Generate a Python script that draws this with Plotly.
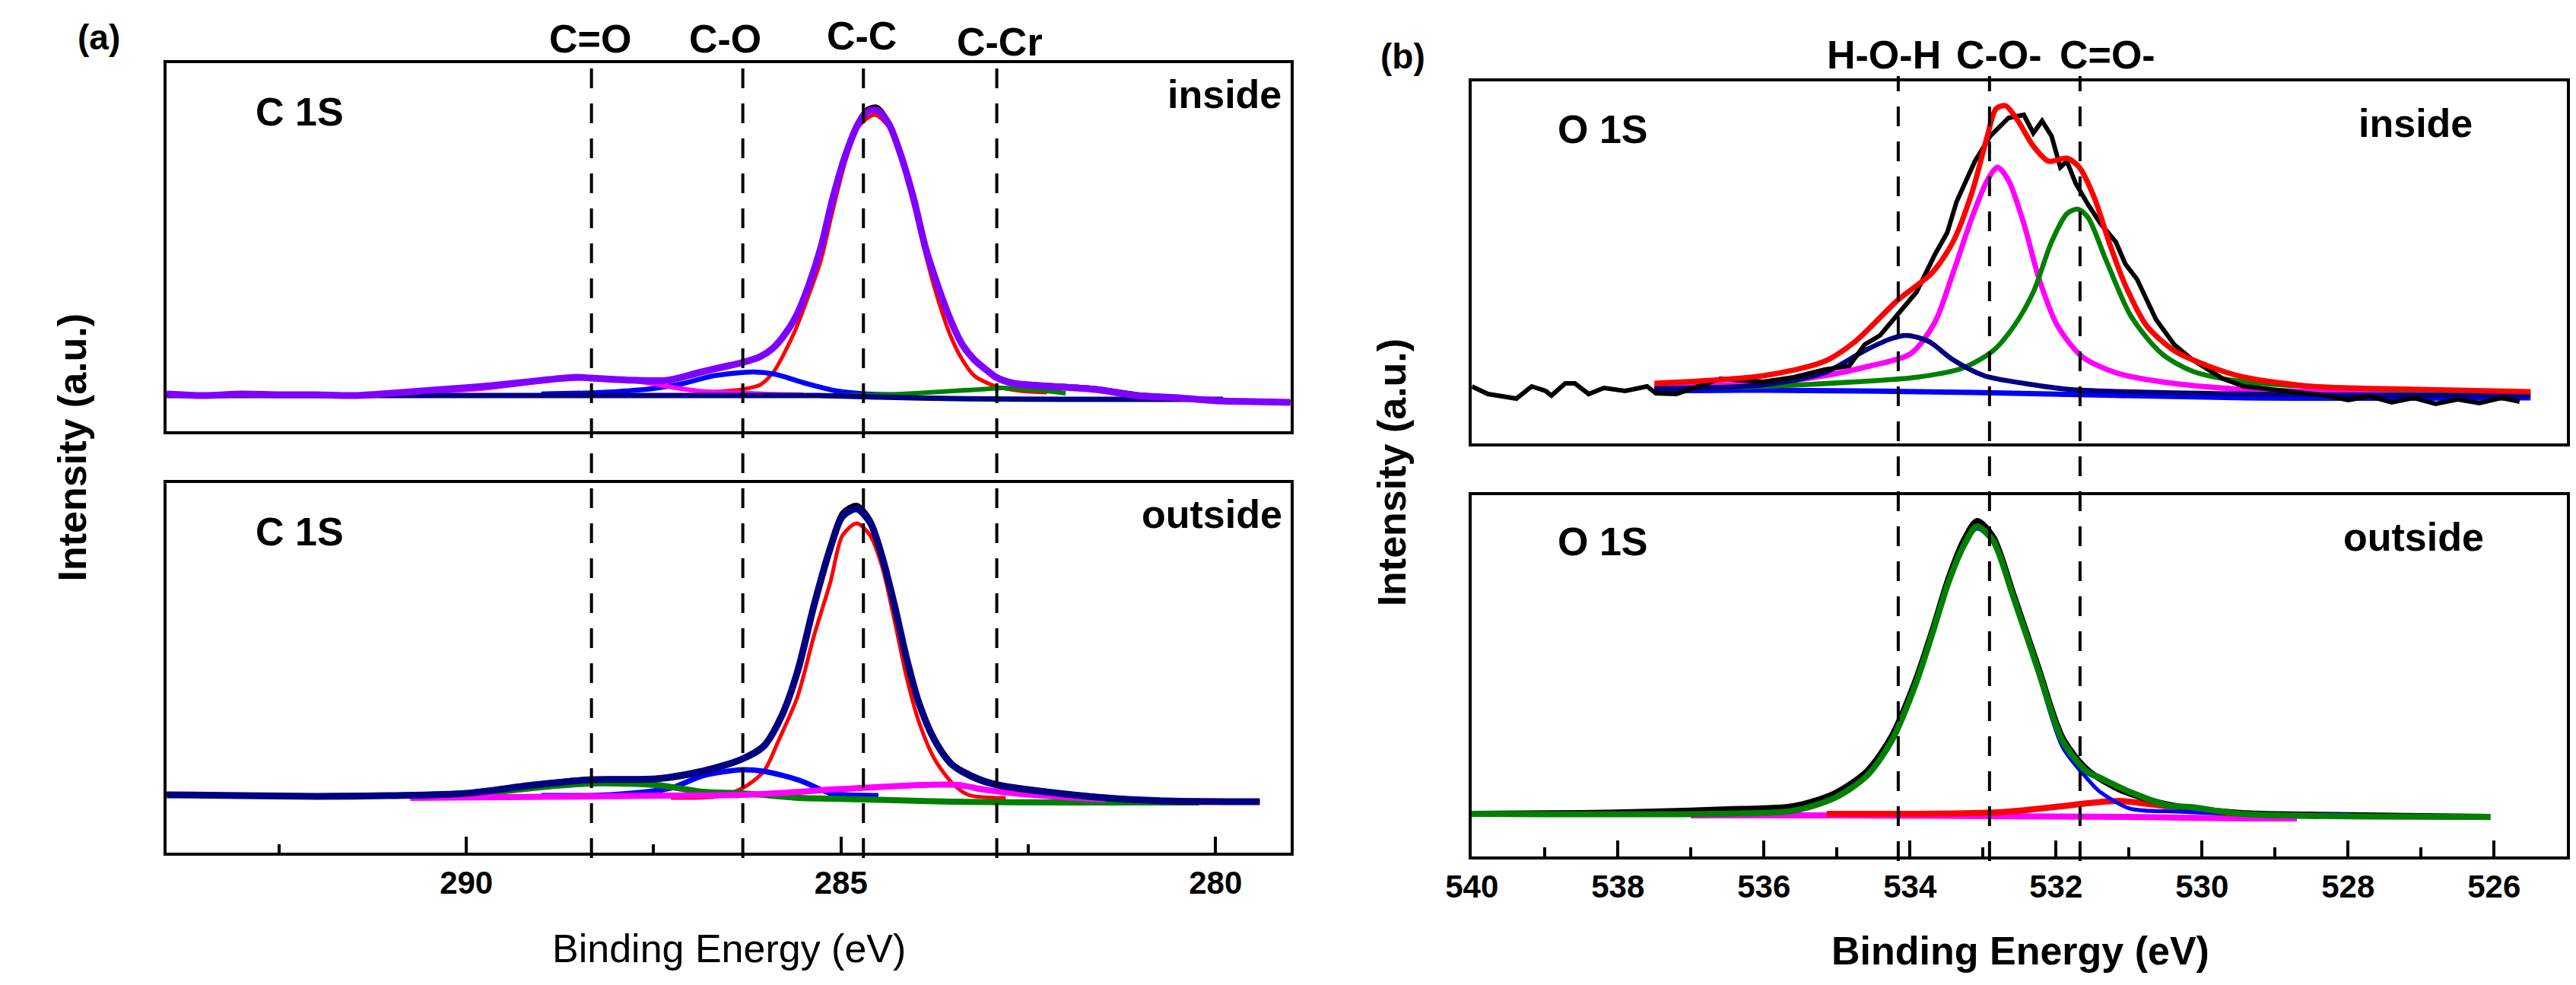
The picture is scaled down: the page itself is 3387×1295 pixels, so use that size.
"""XPS C 1s / O 1s peak fits, inside vs outside, redrawn with Plotly."""
import plotly.graph_objects as go

W, H = 3387, 1295
FONT = "Liberation Sans"

# ---------------- (a) C 1s, inside ----------------
c_in_env_e = [294.0, 293.5, 293.0, 292.5, 292.0, 291.5, 291.0, 290.46, 289.9, 289.37, 288.9,
              288.54, 288.34, 288.0, 287.73, 287.32, 286.90, 286.60, 286.33, 286.08, 285.90,
              285.76, 285.60, 285.43, 285.27, 285.11, 284.94, 284.77, 284.65, 284.52, 284.36,
              284.20, 284.03, 283.87, 283.71, 283.54, 283.38, 283.22, 283.05, 282.93, 282.70,
              282.2, 281.6, 281.05, 280.5, 279.96, 279.5, 279.0]
c_in_env = [49, 47, 49, 48, 48, 47, 50, 54, 58, 63, 68, 71, 70, 68, 67, 67, 77, 84, 90, 98, 110,
            126, 151, 192, 241, 306, 363, 404, 420, 422, 404, 363, 306, 241, 192, 147, 114, 94,
            80, 71, 63, 59, 55, 47, 44, 40, 39, 38]
c_in_raw = [50, 48, 50, 47, 49, 48, 50, 55, 57, 64, 69, 72, 70, 69, 66, 68, 78, 85, 91, 99, 111,
            128, 153, 194, 244, 309, 367, 408, 424, 427, 407, 365, 308, 243, 194, 149, 116, 96,
            82, 73, 65, 61, 57, 49, 45, 41, 40, 38]

c_in_cc_e = [286.8, 286.33, 286.08, 285.90, 285.76, 285.60, 285.43, 285.27, 285.11, 284.94,
             284.77, 284.55, 284.36, 284.20, 284.03, 283.87, 283.71, 283.54, 283.38, 283.22,
             282.93, 282.6, 282.25]
c_in_cc = [51, 55, 61, 78, 102, 135, 179, 224, 290, 355, 400, 416, 400, 359, 298, 232, 175, 126,
           94, 73, 59, 53, 51]

c_in_co_e = [289.0, 288.22, 287.52, 287.10, 286.70, 286.17, 285.88, 285.47, 285.06, 284.65, 284.3]
c_in_co = [49, 51, 56, 63, 73, 78, 75, 63, 53, 49, 48]

c_in_cdo_e = [291.0, 290.5, 289.8, 289.3, 288.8, 288.4, 288.0, 287.6, 287.32, 286.90, 286.5,
              286.0, 285.5]
c_in_cdo = [50, 52, 56, 62, 68, 70, 69, 64, 59, 53, 51, 49, 48]

c_in_ccr_e = [285.2, 284.5, 284.0, 283.5, 283.0, 282.85, 282.5, 282.25, 282.0]
c_in_ccr = [47, 48, 50, 53, 56, 57, 55, 53, 50]

c_in_bg_e = [294.0, 286.0, 285.3, 284.5, 283.5, 282.0, 279.9]
c_in_bg = [47, 47, 47, 45, 43, 42, 42]

# ---------------- (a) C 1s, outside ----------------
c_out_env_e = [294.0, 293.0, 292.0, 291.0, 290.0, 289.1, 288.33, 287.47, 286.85, 286.32, 286.03,
               285.79, 285.58, 285.36, 285.14, 284.98, 284.79, 284.61, 284.45, 284.28, 284.12,
               283.96, 283.75, 283.51, 283.18, 282.91, 282.27, 281.46, 280.64, 279.41]
c_out_env = [76, 75, 74, 75, 78, 89, 96, 97, 107, 123, 140, 180, 238, 325, 401, 442, 452, 434,
             389, 323, 254, 197, 148, 115, 97, 89, 80, 72, 68, 67]
c_out_raw = [77, 75, 75, 76, 78, 90, 97, 98, 108, 124, 142, 182, 241, 329, 405, 447, 457, 438,
             392, 325, 256, 199, 150, 117, 99, 90, 81, 73, 68, 67]

c_out_cc_e = [287.27, 286.64, 286.31, 286.03, 285.83, 285.58, 285.36, 285.14, 284.98, 284.79,
              284.61, 284.45, 284.28, 284.12, 283.96, 283.75, 283.51, 283.30, 282.93, 282.8]
c_out_cc = [72, 74, 85, 107, 148, 205, 285, 356, 417, 433, 417, 376, 303, 229, 172, 123, 91, 76,
            72, 72]

c_out_co_e = [289.0, 288.08, 287.27, 286.85, 286.32, 286.03, 285.55, 285.14, 284.93, 284.5]
c_out_co = [75, 76, 85, 101, 109, 107, 95, 78, 76, 75]

c_out_m_e = [290.75, 289.5, 288.29, 287.3, 286.32, 285.55, 285.14, 284.73, 283.92, 283.43,
             283.10, 282.68, 282.0, 281.46]
c_out_m = [72, 73, 74, 75, 76, 80, 83, 85, 89, 89, 83, 78, 73, 70]

c_out_g_e = [289.93, 289.4, 288.90, 288.29, 287.47, 286.85, 286.31, 285.55, 285.14, 284.3,
             283.51, 282.0, 280.22]
c_out_g = [76, 82, 87, 91, 89, 80, 78, 72, 71, 69, 67, 66, 66]

# ---------------- (b) O 1s, inside ----------------
o_in_raw_e = [540.0, 539.78, 539.39, 539.18, 538.99, 538.91, 538.72, 538.59, 538.40, 538.19,
              537.90, 537.60, 537.48, 537.20, 536.60, 536.01, 535.59, 535.17, 534.83, 534.62,
              534.41, 534.16, 533.91, 533.66, 533.49, 533.36, 533.11, 532.90, 532.65, 532.44,
              532.31, 532.19, 532.06, 531.94, 531.85, 531.73, 531.56, 531.39, 531.18, 531.05,
              530.89, 530.63, 530.38, 530.13, 529.71, 529.42, 529.0, 528.6, 528.3, 528.0,
              527.7, 527.4, 527.1, 526.8, 526.5, 526.2, 525.9, 525.65]
o_in_raw = [75, 65, 59, 75, 69, 63, 79, 79, 65, 73, 69, 75, 66, 65, 85, 81, 87, 97, 102, 130,
            142, 171, 199, 248, 277, 318, 371, 404, 428, 432, 408, 424, 404, 363, 371, 342, 314,
            289, 265, 236, 216, 163, 130, 110, 85, 75, 70, 66, 63, 57, 62, 54, 60, 52, 58, 53,
            60, 55]

o_in_env_e = [537.5, 536.01, 535.17, 534.75, 534.16, 533.70, 533.41, 533.15, 532.94, 532.82,
              532.69, 532.52, 532.31, 532.10, 531.85, 531.68, 531.47, 531.26, 531.05, 530.76,
              530.38, 529.92, 529.42, 528.5, 527.0, 525.5]
o_in_env = [79, 89, 108, 134, 189, 224, 265, 330, 404, 440, 444, 424, 391, 371, 375, 363, 322,
            261, 208, 155, 122, 102, 87, 75, 71, 68]

o_in_co_e = [537.5, 536.01, 535.17, 534.54, 533.99, 533.66, 533.41, 533.15, 532.94, 532.80,
             532.65, 532.44, 532.23, 531.98, 531.64, 531.18, 530.55, 529.42, 527.5, 525.5]
o_in_co = [75, 79, 89, 102, 118, 159, 224, 297, 346, 363, 346, 289, 216, 155, 114, 93, 81, 71,
           67, 65]

o_in_cdo_e = [537.5, 536.01, 534.75, 533.91, 533.28, 532.86, 532.57, 532.31, 532.06, 531.85,
              531.70, 531.56, 531.31, 530.97, 530.55, 530.13, 529.42, 527.5, 525.5]
o_in_cdo = [72, 75, 81, 87, 99, 122, 155, 199, 265, 302, 308, 297, 240, 167, 118, 95, 81, 71, 67]

o_in_hoh_e = [537.5, 536.01, 535.17, 534.62, 534.25, 534.04, 533.74, 533.41, 532.98, 532.44,
              531.81, 529.42, 525.5]
o_in_hoh = [72, 77, 93, 122, 138, 142, 134, 110, 89, 79, 71, 65, 63]

o_in_bg_e = [537.5, 536.01, 533.1, 529.42, 525.5]
o_in_bg = [69, 70, 67, 60, 60]

# ---------------- (b) O 1s, outside ----------------
o_out_env_e = [540.0, 536.71, 535.60, 535.03, 534.59, 534.25, 533.92, 533.69, 533.47, 533.25,
               533.08, 532.86, 532.58, 532.24, 531.91, 531.57, 531.41, 530.99, 530.46, 530.15,
               529.45, 526.05]
o_out_env = [56, 56, 60, 77, 106, 152, 227, 294, 361, 411, 434, 415, 340, 244, 152, 111, 104,
             85, 67, 65, 56, 52]

o_out_raw_e = [540.0, 538.5, 537.5, 536.5, 535.6, 535.03, 534.59, 534.25, 533.92, 533.69, 533.47,
               533.25, 533.08, 532.86, 532.58, 532.24, 531.91, 531.57, 531.13, 530.46, 529.45,
               528.5, 527.0, 526.05]
o_out_raw = [56, 57, 59, 62, 66, 83, 112, 158, 232, 298, 366, 418, 441, 420, 344, 248, 156, 114,
             88, 68, 57, 55, 53, 52]

o_out_b_e = [537.0, 535.6, 535.03, 534.59, 534.25, 533.92, 533.69, 533.47, 533.25, 533.08,
             532.86, 532.58, 532.24, 531.91, 531.57, 531.41, 530.99, 530.36, 529.5, 528.0]
o_out_b = [56, 60, 77, 106, 152, 227, 294, 361, 411, 431, 413, 338, 240, 144, 102, 86, 63, 59,
           56, 55]

o_out_r_e = [535.14, 532.80, 532.02, 531.46, 531.13, 530.57, 530.15, 529.79, 528.90]
o_out_r = [56, 58, 65, 71, 73, 67, 63, 58, 54]

o_out_m_e = [537.0, 535.0, 533.0, 531.0, 529.4, 528.7]
o_out_m = [54, 54, 53, 52, 50, 50]

# peak markers (dashed guide lines)
c_peaks = [288.33, 286.31, 284.70, 282.92]
o_peaks = [534.16, 532.91, 531.67]

fig = go.Figure()


def add(e, v, color, width, xa, ya, smooth=True):
    fig.add_trace(go.Scatter(
        x=e, y=v, mode="lines", xaxis=xa, yaxis=ya, showlegend=False, hoverinfo="skip",
        line=dict(color=color, width=width, shape="spline" if smooth else "linear",
                  smoothing=0.8),
    ))


# (a) inside
add(c_in_env_e, c_in_raw, "black", 5, "x", "y")
add(c_in_cc_e, c_in_cc, "#FF0000", 5, "x", "y")
add(c_in_co_e, c_in_co, "#0000FF", 6.5, "x", "y")
add(c_in_cdo_e, c_in_cdo, "#FF00FF", 6, "x", "y")
add(c_in_ccr_e, c_in_ccr, "#008000", 6, "x", "y")
add(c_in_bg_e, c_in_bg, "#000080", 7, "x", "y")
add(c_in_env_e, c_in_env, "#8000FF", 9, "x", "y")

# (a) outside
add(c_out_env_e, c_out_raw, "black", 6, "x2", "y2")
add(c_out_cc_e, c_out_cc, "#FF0000", 5, "x2", "y2")
add(c_out_co_e, c_out_co, "#0000FF", 7, "x2", "y2")
add(c_out_g_e, c_out_g, "#008000", 8, "x2", "y2")
add(c_out_m_e, c_out_m, "#FF00FF", 8, "x2", "y2")
add(c_out_env_e, c_out_env, "#000080", 9, "x2", "y2")

# (b) inside
add(o_in_bg_e, o_in_bg, "#0000FF", 7, "x3", "y3")
add(o_in_co_e, o_in_co, "#FF00FF", 7, "x3", "y3")
add(o_in_cdo_e, o_in_cdo, "#008000", 6.5, "x3", "y3")
add(o_in_hoh_e, o_in_hoh, "#000080", 6.5, "x3", "y3")
add(o_in_raw_e, o_in_raw, "black", 6, "x3", "y3", smooth=False)
add(o_in_env_e, o_in_env, "#FF0000", 7, "x3", "y3")

# (b) outside
add(o_out_m_e, o_out_m, "#FF00FF", 8, "x4", "y4")
add(o_out_r_e, o_out_r, "#FF0000", 8, "x4", "y4")
add(o_out_raw_e, o_out_raw, "black", 8, "x4", "y4")
add(o_out_b_e, o_out_b, "#0000FF", 5, "x4", "y4")
add(o_out_env_e, o_out_env, "#008000", 8, "x4", "y4")


def px(x):
    return x / W


def py(y):
    return 1 - y / H


frame = dict(showline=True, mirror=True, linecolor="black", linewidth=4, showgrid=False,
             zeroline=False)
bare = dict(frame, ticks="", showticklabels=False)
tickfont = dict(family=FONT, size=42, color="black", weight="bold")

fig.update_layout(
    width=W, height=H, margin=dict(l=0, r=0, t=0, b=0),
    paper_bgcolor="white", plot_bgcolor="white",
    font=dict(family=FONT, color="black"),
    xaxis=dict(bare, domain=[px(178), px(1671)], range=[294, 279], anchor="y"),
    yaxis=dict(bare, domain=[py(559), py(75)], range=[0, 484], anchor="x"),
    xaxis2=dict(frame, domain=[px(178), px(1671)], range=[294, 279], anchor="y2",
                ticks="inside", ticklen=21, tickwidth=4, tickcolor="black", tick0=280, dtick=5,
                minor=dict(ticks="inside", ticklen=11, tickwidth=4, tickcolor="black",
                           tick0=280, dtick=2.5),
                tickfont=tickfont),
    yaxis2=dict(bare, domain=[py(1113), py(627)], range=[0, 486], anchor="x2"),
    xaxis3=dict(bare, domain=[px(1912), px(3367)], range=[540, 525], anchor="y3"),
    yaxis3=dict(bare, domain=[py(575), py(99)], range=[0, 476], anchor="x3"),
    xaxis4=dict(frame, domain=[px(1912), px(3367)], range=[540, 525], anchor="y4",
                ticks="inside", ticklen=21, tickwidth=4, tickcolor="black", tick0=526, dtick=2,
                minor=dict(ticks="inside", ticklen=12, tickwidth=4, tickcolor="black",
                           tick0=526, dtick=1),
                tickfont=tickfont),
    yaxis4=dict(bare, domain=[py(1118), py(643)], range=[0, 475], anchor="x4"),
)

# dashed guide lines through both stacked panels
for e in c_peaks:
    fig.add_shape(type="line", xref="x", yref="paper", x0=e, x1=e, y0=py(1120), y1=py(72),
                  line=dict(color="black", width=4, dash="26px,20px"))
for e in o_peaks:
    fig.add_shape(type="line", xref="x3", yref="paper", x0=e, x1=e, y0=py(1124), y1=py(92),
                  line=dict(color="black", width=4, dash="26px,20px"))

# text labels: (text, x px, y px, size, bold, angle)
labels = [
    ("(a)", 88, 41, 46, True, 0),
    ("(b)", 1820, 66, 46, True, 0),
    ("C=O", 741, 43, 52, True, 0),
    ("C-O", 920, 43, 52, True, 0),
    ("C-C", 1101, 39, 52, True, 0),
    ("C-Cr", 1285, 47, 52, True, 0),
    ("H-O-H", 2459, 64, 52, True, 0),
    ("C-O-", 2613, 64, 52, True, 0),
    ("C=O-", 2756, 64, 52, True, 0),
    ("C 1S", 355, 139, 52, True, 0),
    ("C 1S", 355, 691, 52, True, 0),
    ("inside", 1583, 116, 52, True, 0),
    ("outside", 1567, 668, 52, True, 0),
    ("O 1S", 2086, 162, 52, True, 0),
    ("O 1S", 2086, 704, 52, True, 0),
    ("inside", 3166, 154, 52, True, 0),
    ("outside", 3163, 698, 52, True, 0),
    ("Binding Energy (eV)", 925, 1239, 52, False, 0),
    ("Binding Energy (eV)", 2641, 1242, 52, True, 0),
    ("Intensity (a.u.)", 53, 580, 52, True, -90),
    ("Intensity (a.u.)", 1806, 613, 52, True, -90),
]
for text, x, y, size, bold, angle in labels:
    fig.add_annotation(
        text=text, x=px(x), y=py(y), xref="paper", yref="paper", showarrow=False,
        xanchor="center", yanchor="middle", textangle=angle,
        font=dict(family=FONT, size=size, color="black", weight="bold" if bold else "normal"),
    )

fig.write_html("out.html")
